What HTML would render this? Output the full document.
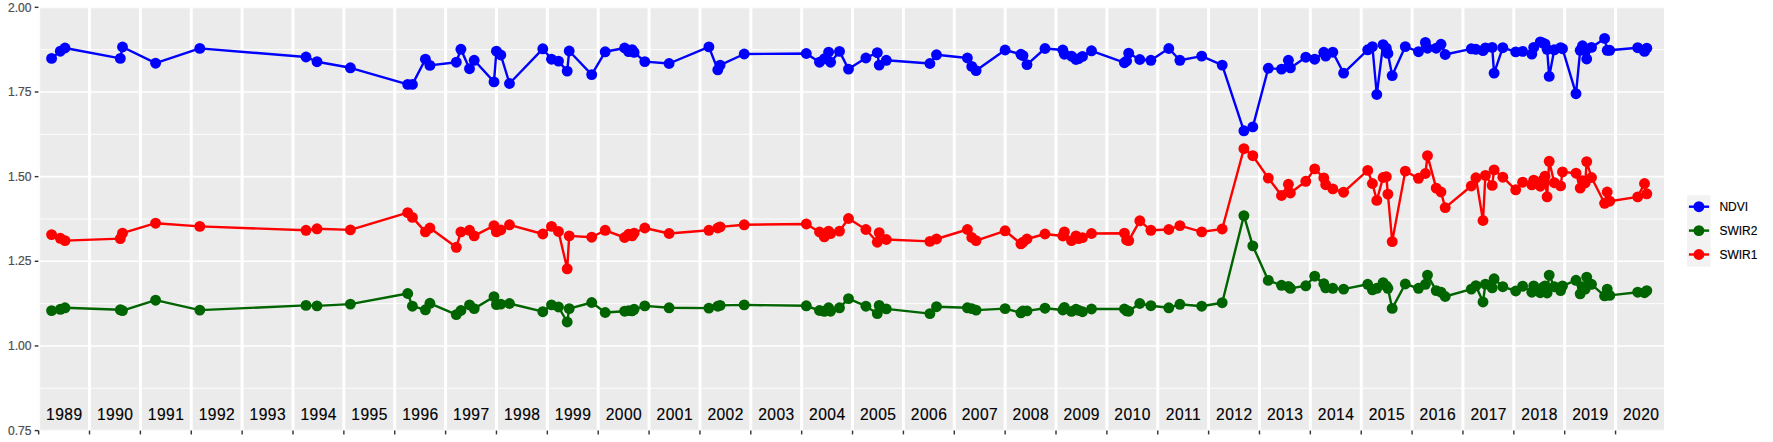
<!DOCTYPE html>
<html lang="en"><head><meta charset="utf-8"><title>Spectral index time series</title>
<style>html,body{margin:0;padding:0;background:#fff}svg{display:block}text{font-family:"Liberation Sans",Arial,Helvetica,sans-serif}</style></head><body>
<svg width="1773" height="442" viewBox="0 0 1773 442">
<rect width="1773" height="442" fill="#fff"/>
<defs><clipPath id="p"><rect x="38.4" y="7.33" width="1625.66" height="423.27"/></clipPath></defs>
<rect x="38.4" y="7.33" width="1625.66" height="423.27" fill="#EBEBEB"/>
<g clip-path="url(#p)">
<g stroke="#fff" stroke-width="0.9" fill="none">
<line x1="38.4" x2="1664.06" y1="49.66" y2="49.66"/>
<line x1="38.4" x2="1664.06" y1="134.31" y2="134.31"/>
<line x1="38.4" x2="1664.06" y1="218.97" y2="218.97"/>
<line x1="38.4" x2="1664.06" y1="303.62" y2="303.62"/>
<line x1="38.4" x2="1664.06" y1="388.27" y2="388.27"/>
</g>
<g stroke="#fff" stroke-width="1.6" fill="none">
<line x1="38.4" x2="1664.06" y1="7.33" y2="7.33"/>
<line x1="38.4" x2="1664.06" y1="91.98" y2="91.98"/>
<line x1="38.4" x2="1664.06" y1="176.64" y2="176.64"/>
<line x1="38.4" x2="1664.06" y1="261.29" y2="261.29"/>
<line x1="38.4" x2="1664.06" y1="345.95" y2="345.95"/>
<line x1="38.4" x2="1664.06" y1="430.60" y2="430.60"/>
</g>
<g stroke="#fff" stroke-width="3" fill="none">
<line x1="38.65" x2="38.65" y1="7.33" y2="430.6"/>
<line x1="89.52" x2="89.52" y1="7.33" y2="430.6"/>
<line x1="140.39" x2="140.39" y1="7.33" y2="430.6"/>
<line x1="191.26" x2="191.26" y1="7.33" y2="430.6"/>
<line x1="242.12" x2="242.12" y1="7.33" y2="430.6"/>
<line x1="292.99" x2="292.99" y1="7.33" y2="430.6"/>
<line x1="343.86" x2="343.86" y1="7.33" y2="430.6"/>
<line x1="394.73" x2="394.73" y1="7.33" y2="430.6"/>
<line x1="445.60" x2="445.60" y1="7.33" y2="430.6"/>
<line x1="496.46" x2="496.46" y1="7.33" y2="430.6"/>
<line x1="547.33" x2="547.33" y1="7.33" y2="430.6"/>
<line x1="598.20" x2="598.20" y1="7.33" y2="430.6"/>
<line x1="649.07" x2="649.07" y1="7.33" y2="430.6"/>
<line x1="699.94" x2="699.94" y1="7.33" y2="430.6"/>
<line x1="750.80" x2="750.80" y1="7.33" y2="430.6"/>
<line x1="801.67" x2="801.67" y1="7.33" y2="430.6"/>
<line x1="852.54" x2="852.54" y1="7.33" y2="430.6"/>
<line x1="903.41" x2="903.41" y1="7.33" y2="430.6"/>
<line x1="954.28" x2="954.28" y1="7.33" y2="430.6"/>
<line x1="1005.14" x2="1005.14" y1="7.33" y2="430.6"/>
<line x1="1056.01" x2="1056.01" y1="7.33" y2="430.6"/>
<line x1="1106.88" x2="1106.88" y1="7.33" y2="430.6"/>
<line x1="1157.75" x2="1157.75" y1="7.33" y2="430.6"/>
<line x1="1208.62" x2="1208.62" y1="7.33" y2="430.6"/>
<line x1="1259.48" x2="1259.48" y1="7.33" y2="430.6"/>
<line x1="1310.35" x2="1310.35" y1="7.33" y2="430.6"/>
<line x1="1361.22" x2="1361.22" y1="7.33" y2="430.6"/>
<line x1="1412.09" x2="1412.09" y1="7.33" y2="430.6"/>
<line x1="1462.96" x2="1462.96" y1="7.33" y2="430.6"/>
<line x1="1513.82" x2="1513.82" y1="7.33" y2="430.6"/>
<line x1="1564.69" x2="1564.69" y1="7.33" y2="430.6"/>
<line x1="1615.56" x2="1615.56" y1="7.33" y2="430.6"/>
</g>
<polyline points="51.6,58.4 60.3,51.2 65.0,48.0 120.3,58.4 122.5,47.0 155.6,63.2 199.8,48.4 306.0,57.0 317.0,61.7 350.4,67.8 407.7,84.4 412.4,84.4 425.4,59.2 429.9,65.4 456.3,62.2 460.9,49.3 469.5,68.7 474.2,60.3 494.0,81.9 496.4,51.2 500.8,55.0 509.5,83.5 542.8,48.8 551.5,59.2 558.5,61.1 567.2,71.1 569.2,51.0 591.7,74.6 605.2,51.8 624.6,48.0 628.6,51.6 632.1,49.6 634.1,52.4 644.8,61.6 669.1,63.5 708.9,46.9 717.8,69.8 720.1,65.1 744.2,54.0 806.3,53.5 819.5,62.2 824.3,58.8 828.6,52.1 830.6,62.2 839.5,51.4 848.5,69.1 865.9,58.0 877.3,52.7 879.2,65.1 886.3,60.3 929.9,63.5 936.5,54.8 967.4,58.0 971.8,66.4 976.1,70.6 1005.1,50.0 1020.9,54.3 1023.0,55.6 1027.0,64.6 1045.0,48.5 1062.8,50.0 1064.4,54.2 1071.5,56.2 1076.0,59.5 1078.6,58.6 1082.5,56.4 1091.5,50.8 1124.4,62.7 1126.6,61.0 1128.7,53.2 1139.8,59.5 1150.9,60.3 1168.8,48.5 1179.9,60.3 1201.7,56.1 1222.2,65.1 1243.9,130.8 1252.8,126.9 1268.3,68.3 1281.5,69.1 1288.4,60.3 1290.4,67.9 1305.8,57.2 1314.7,59.2 1323.8,52.3 1325.7,56.1 1332.8,52.2 1343.6,73.1 1367.7,49.8 1372.4,46.6 1376.8,94.5 1383.1,44.7 1386.3,48.2 1387.9,53.4 1392.2,75.6 1405.3,46.6 1418.5,51.7 1425.4,42.4 1427.5,48.2 1436.2,48.2 1441.0,44.3 1445.2,54.5 1471.3,48.8 1475.9,49.3 1483.0,50.6 1485.4,47.9 1492.2,47.4 1494.1,73.1 1502.8,47.7 1515.7,51.9 1522.6,51.4 1531.8,54.1 1533.7,47.4 1540.3,41.9 1542.7,43.0 1545.0,43.9 1547.1,49.3 1549.2,76.4 1554.3,49.8 1560.6,47.7 1562.5,48.7 1576.0,93.7 1580.2,50.3 1582.5,45.8 1585.2,50.0 1586.7,59.0 1591.5,47.4 1604.6,38.4 1607.2,50.3 1609.7,50.3 1637.7,47.7 1644.5,51.4 1646.8,48.2" fill="none" stroke="#0000FF" stroke-width="2.4" stroke-linejoin="round"/>
<polyline points="51.6,310.6 60.3,309.3 65.0,307.8 120.3,309.8 122.5,310.6 155.6,300.2 199.8,310.1 306.0,305.4 317.0,305.9 350.4,304.1 407.7,293.5 412.4,306.2 425.4,309.8 429.9,303.3 456.3,314.6 460.9,310.5 469.5,304.9 474.2,308.6 494.0,296.7 496.4,304.6 500.8,304.1 509.5,303.5 542.8,311.7 551.5,304.9 558.5,307.0 567.2,322.0 569.2,308.6 591.7,302.5 605.2,312.5 624.6,311.2 628.6,310.6 632.1,310.9 634.1,309.3 644.8,305.9 669.1,307.8 708.9,308.1 717.8,306.2 720.1,305.4 744.2,304.9 806.3,305.8 819.5,310.5 824.3,311.3 828.6,307.8 830.6,311.2 839.5,307.8 848.5,298.6 865.9,306.2 877.3,313.6 879.2,305.4 886.3,308.9 929.9,313.6 936.5,306.7 967.4,307.8 971.8,308.6 976.1,310.1 1005.1,308.6 1020.9,312.8 1023.0,310.9 1027.0,310.9 1045.0,308.2 1062.8,310.0 1064.4,307.4 1071.5,311.4 1076.0,309.3 1078.6,310.4 1082.5,311.7 1091.5,309.0 1124.4,309.0 1126.6,310.8 1128.7,311.2 1139.8,303.5 1150.9,305.7 1168.8,307.8 1179.9,304.3 1201.7,306.2 1222.2,302.7 1243.9,215.6 1252.8,245.9 1268.3,280.4 1281.5,285.3 1288.4,286.4 1290.4,288.4 1305.8,285.8 1314.7,276.2 1323.8,283.7 1325.7,287.8 1332.8,288.3 1343.6,289.1 1367.7,284.3 1372.4,289.8 1376.8,288.3 1383.1,282.7 1386.3,285.9 1387.9,288.3 1392.2,308.4 1405.3,284.0 1418.5,288.3 1425.4,284.3 1427.5,275.1 1436.2,290.6 1441.0,292.2 1445.2,296.5 1471.3,289.1 1475.9,285.7 1483.0,302.0 1485.4,284.1 1492.2,287.8 1494.1,278.8 1502.8,286.7 1515.7,291.0 1522.6,286.2 1531.8,292.2 1533.7,285.9 1540.3,292.7 1542.7,287.5 1545.0,285.9 1547.1,293.0 1549.2,275.1 1554.3,286.7 1560.6,290.6 1562.5,285.9 1576.0,280.3 1580.2,293.8 1582.5,286.7 1585.2,289.1 1586.7,277.2 1591.5,284.3 1604.6,295.9 1607.2,289.1 1609.7,295.4 1637.7,292.2 1644.5,292.7 1646.8,290.6" fill="none" stroke="#006400" stroke-width="2.4" stroke-linejoin="round"/>
<polyline points="51.6,234.6 60.3,238.3 65.0,240.6 120.3,238.6 122.5,233.2 155.6,223.2 199.8,226.4 306.0,230.3 317.0,228.8 350.4,229.9 407.7,212.6 412.4,217.4 425.4,231.9 429.9,228.0 456.3,247.3 460.9,231.9 469.5,230.3 474.2,235.9 494.0,225.6 496.4,231.9 500.8,230.0 509.5,224.8 542.8,234.0 551.5,226.4 558.5,231.5 567.2,268.8 569.2,235.9 591.7,237.2 605.2,230.3 624.6,237.5 628.6,234.3 632.1,235.9 634.1,233.2 644.8,228.0 669.1,233.5 708.9,230.3 717.8,228.0 720.1,226.9 744.2,224.8 806.3,224.0 819.5,232.0 824.3,236.8 828.6,231.1 830.6,233.6 839.5,231.1 848.5,218.5 865.9,229.5 877.3,242.2 879.2,232.7 886.3,239.5 929.9,241.4 936.5,239.0 967.4,229.5 971.8,237.5 976.1,240.6 1005.1,230.8 1020.9,243.8 1023.0,242.2 1027.0,239.0 1045.0,234.0 1062.8,236.0 1064.4,231.9 1071.5,240.6 1076.0,235.9 1078.6,238.6 1082.5,237.6 1091.5,233.5 1124.4,233.2 1126.6,240.0 1128.7,240.6 1139.8,220.8 1150.9,230.3 1168.8,229.5 1179.9,225.6 1201.7,231.9 1222.2,229.0 1243.9,148.7 1252.8,155.7 1268.3,178.1 1281.5,195.5 1288.4,184.3 1290.4,193.0 1305.8,181.3 1314.7,168.9 1323.8,177.9 1325.7,184.7 1332.8,188.9 1343.6,192.2 1367.7,170.4 1372.4,183.5 1376.8,200.4 1383.1,177.5 1386.3,176.7 1387.9,194.1 1392.2,241.6 1405.3,171.1 1418.5,178.3 1425.4,173.5 1427.5,155.6 1436.2,188.1 1441.0,192.0 1445.2,207.6 1471.3,186.0 1475.9,177.8 1483.0,220.5 1485.4,175.4 1492.2,185.4 1494.1,169.9 1502.8,177.2 1515.7,189.8 1522.6,182.2 1531.8,184.9 1533.7,180.2 1540.3,186.2 1542.7,180.2 1545.0,176.2 1547.1,196.8 1549.2,161.3 1554.3,182.7 1560.6,185.9 1562.5,171.9 1576.0,173.2 1580.2,188.1 1582.5,180.6 1585.2,183.0 1586.7,161.6 1591.5,177.5 1604.6,203.3 1607.2,192.0 1609.7,201.2 1637.7,196.9 1644.5,183.5 1646.8,193.8" fill="none" stroke="#FF0000" stroke-width="2.4" stroke-linejoin="round"/>
<g fill="#0000FF">
<circle cx="51.6" cy="58.4" r="5.45"/>
<circle cx="60.3" cy="51.2" r="5.45"/>
<circle cx="65.0" cy="48.0" r="5.45"/>
<circle cx="120.3" cy="58.4" r="5.45"/>
<circle cx="122.5" cy="47.0" r="5.45"/>
<circle cx="155.6" cy="63.2" r="5.45"/>
<circle cx="199.8" cy="48.4" r="5.45"/>
<circle cx="306.0" cy="57.0" r="5.45"/>
<circle cx="317.0" cy="61.7" r="5.45"/>
<circle cx="350.4" cy="67.8" r="5.45"/>
<circle cx="407.7" cy="84.4" r="5.45"/>
<circle cx="412.4" cy="84.4" r="5.45"/>
<circle cx="425.4" cy="59.2" r="5.45"/>
<circle cx="429.9" cy="65.4" r="5.45"/>
<circle cx="456.3" cy="62.2" r="5.45"/>
<circle cx="460.9" cy="49.3" r="5.45"/>
<circle cx="469.5" cy="68.7" r="5.45"/>
<circle cx="474.2" cy="60.3" r="5.45"/>
<circle cx="494.0" cy="81.9" r="5.45"/>
<circle cx="496.4" cy="51.2" r="5.45"/>
<circle cx="500.8" cy="55.0" r="5.45"/>
<circle cx="509.5" cy="83.5" r="5.45"/>
<circle cx="542.8" cy="48.8" r="5.45"/>
<circle cx="551.5" cy="59.2" r="5.45"/>
<circle cx="558.5" cy="61.1" r="5.45"/>
<circle cx="567.2" cy="71.1" r="5.45"/>
<circle cx="569.2" cy="51.0" r="5.45"/>
<circle cx="591.7" cy="74.6" r="5.45"/>
<circle cx="605.2" cy="51.8" r="5.45"/>
<circle cx="624.6" cy="48.0" r="5.45"/>
<circle cx="628.6" cy="51.6" r="5.45"/>
<circle cx="632.1" cy="49.6" r="5.45"/>
<circle cx="634.1" cy="52.4" r="5.45"/>
<circle cx="644.8" cy="61.6" r="5.45"/>
<circle cx="669.1" cy="63.5" r="5.45"/>
<circle cx="708.9" cy="46.9" r="5.45"/>
<circle cx="717.8" cy="69.8" r="5.45"/>
<circle cx="720.1" cy="65.1" r="5.45"/>
<circle cx="744.2" cy="54.0" r="5.45"/>
<circle cx="806.3" cy="53.5" r="5.45"/>
<circle cx="819.5" cy="62.2" r="5.45"/>
<circle cx="824.3" cy="58.8" r="5.45"/>
<circle cx="828.6" cy="52.1" r="5.45"/>
<circle cx="830.6" cy="62.2" r="5.45"/>
<circle cx="839.5" cy="51.4" r="5.45"/>
<circle cx="848.5" cy="69.1" r="5.45"/>
<circle cx="865.9" cy="58.0" r="5.45"/>
<circle cx="877.3" cy="52.7" r="5.45"/>
<circle cx="879.2" cy="65.1" r="5.45"/>
<circle cx="886.3" cy="60.3" r="5.45"/>
<circle cx="929.9" cy="63.5" r="5.45"/>
<circle cx="936.5" cy="54.8" r="5.45"/>
<circle cx="967.4" cy="58.0" r="5.45"/>
<circle cx="971.8" cy="66.4" r="5.45"/>
<circle cx="976.1" cy="70.6" r="5.45"/>
<circle cx="1005.1" cy="50.0" r="5.45"/>
<circle cx="1020.9" cy="54.3" r="5.45"/>
<circle cx="1023.0" cy="55.6" r="5.45"/>
<circle cx="1027.0" cy="64.6" r="5.45"/>
<circle cx="1045.0" cy="48.5" r="5.45"/>
<circle cx="1062.8" cy="50.0" r="5.45"/>
<circle cx="1064.4" cy="54.2" r="5.45"/>
<circle cx="1071.5" cy="56.2" r="5.45"/>
<circle cx="1076.0" cy="59.5" r="5.45"/>
<circle cx="1078.6" cy="58.6" r="5.45"/>
<circle cx="1082.5" cy="56.4" r="5.45"/>
<circle cx="1091.5" cy="50.8" r="5.45"/>
<circle cx="1124.4" cy="62.7" r="5.45"/>
<circle cx="1126.6" cy="61.0" r="5.45"/>
<circle cx="1128.7" cy="53.2" r="5.45"/>
<circle cx="1139.8" cy="59.5" r="5.45"/>
<circle cx="1150.9" cy="60.3" r="5.45"/>
<circle cx="1168.8" cy="48.5" r="5.45"/>
<circle cx="1179.9" cy="60.3" r="5.45"/>
<circle cx="1201.7" cy="56.1" r="5.45"/>
<circle cx="1222.2" cy="65.1" r="5.45"/>
<circle cx="1243.9" cy="130.8" r="5.45"/>
<circle cx="1252.8" cy="126.9" r="5.45"/>
<circle cx="1268.3" cy="68.3" r="5.45"/>
<circle cx="1281.5" cy="69.1" r="5.45"/>
<circle cx="1288.4" cy="60.3" r="5.45"/>
<circle cx="1290.4" cy="67.9" r="5.45"/>
<circle cx="1305.8" cy="57.2" r="5.45"/>
<circle cx="1314.7" cy="59.2" r="5.45"/>
<circle cx="1323.8" cy="52.3" r="5.45"/>
<circle cx="1325.7" cy="56.1" r="5.45"/>
<circle cx="1332.8" cy="52.2" r="5.45"/>
<circle cx="1343.6" cy="73.1" r="5.45"/>
<circle cx="1367.7" cy="49.8" r="5.45"/>
<circle cx="1372.4" cy="46.6" r="5.45"/>
<circle cx="1376.8" cy="94.5" r="5.45"/>
<circle cx="1383.1" cy="44.7" r="5.45"/>
<circle cx="1386.3" cy="48.2" r="5.45"/>
<circle cx="1387.9" cy="53.4" r="5.45"/>
<circle cx="1392.2" cy="75.6" r="5.45"/>
<circle cx="1405.3" cy="46.6" r="5.45"/>
<circle cx="1418.5" cy="51.7" r="5.45"/>
<circle cx="1425.4" cy="42.4" r="5.45"/>
<circle cx="1427.5" cy="48.2" r="5.45"/>
<circle cx="1436.2" cy="48.2" r="5.45"/>
<circle cx="1441.0" cy="44.3" r="5.45"/>
<circle cx="1445.2" cy="54.5" r="5.45"/>
<circle cx="1471.3" cy="48.8" r="5.45"/>
<circle cx="1475.9" cy="49.3" r="5.45"/>
<circle cx="1483.0" cy="50.6" r="5.45"/>
<circle cx="1485.4" cy="47.9" r="5.45"/>
<circle cx="1492.2" cy="47.4" r="5.45"/>
<circle cx="1494.1" cy="73.1" r="5.45"/>
<circle cx="1502.8" cy="47.7" r="5.45"/>
<circle cx="1515.7" cy="51.9" r="5.45"/>
<circle cx="1522.6" cy="51.4" r="5.45"/>
<circle cx="1531.8" cy="54.1" r="5.45"/>
<circle cx="1533.7" cy="47.4" r="5.45"/>
<circle cx="1540.3" cy="41.9" r="5.45"/>
<circle cx="1542.7" cy="43.0" r="5.45"/>
<circle cx="1545.0" cy="43.9" r="5.45"/>
<circle cx="1547.1" cy="49.3" r="5.45"/>
<circle cx="1549.2" cy="76.4" r="5.45"/>
<circle cx="1554.3" cy="49.8" r="5.45"/>
<circle cx="1560.6" cy="47.7" r="5.45"/>
<circle cx="1562.5" cy="48.7" r="5.45"/>
<circle cx="1576.0" cy="93.7" r="5.45"/>
<circle cx="1580.2" cy="50.3" r="5.45"/>
<circle cx="1582.5" cy="45.8" r="5.45"/>
<circle cx="1585.2" cy="50.0" r="5.45"/>
<circle cx="1586.7" cy="59.0" r="5.45"/>
<circle cx="1591.5" cy="47.4" r="5.45"/>
<circle cx="1604.6" cy="38.4" r="5.45"/>
<circle cx="1607.2" cy="50.3" r="5.45"/>
<circle cx="1609.7" cy="50.3" r="5.45"/>
<circle cx="1637.7" cy="47.7" r="5.45"/>
<circle cx="1644.5" cy="51.4" r="5.45"/>
<circle cx="1646.8" cy="48.2" r="5.45"/>
</g>
<g fill="#006400">
<circle cx="51.6" cy="310.6" r="5.45"/>
<circle cx="60.3" cy="309.3" r="5.45"/>
<circle cx="65.0" cy="307.8" r="5.45"/>
<circle cx="120.3" cy="309.8" r="5.45"/>
<circle cx="122.5" cy="310.6" r="5.45"/>
<circle cx="155.6" cy="300.2" r="5.45"/>
<circle cx="199.8" cy="310.1" r="5.45"/>
<circle cx="306.0" cy="305.4" r="5.45"/>
<circle cx="317.0" cy="305.9" r="5.45"/>
<circle cx="350.4" cy="304.1" r="5.45"/>
<circle cx="407.7" cy="293.5" r="5.45"/>
<circle cx="412.4" cy="306.2" r="5.45"/>
<circle cx="425.4" cy="309.8" r="5.45"/>
<circle cx="429.9" cy="303.3" r="5.45"/>
<circle cx="456.3" cy="314.6" r="5.45"/>
<circle cx="460.9" cy="310.5" r="5.45"/>
<circle cx="469.5" cy="304.9" r="5.45"/>
<circle cx="474.2" cy="308.6" r="5.45"/>
<circle cx="494.0" cy="296.7" r="5.45"/>
<circle cx="496.4" cy="304.6" r="5.45"/>
<circle cx="500.8" cy="304.1" r="5.45"/>
<circle cx="509.5" cy="303.5" r="5.45"/>
<circle cx="542.8" cy="311.7" r="5.45"/>
<circle cx="551.5" cy="304.9" r="5.45"/>
<circle cx="558.5" cy="307.0" r="5.45"/>
<circle cx="567.2" cy="322.0" r="5.45"/>
<circle cx="569.2" cy="308.6" r="5.45"/>
<circle cx="591.7" cy="302.5" r="5.45"/>
<circle cx="605.2" cy="312.5" r="5.45"/>
<circle cx="624.6" cy="311.2" r="5.45"/>
<circle cx="628.6" cy="310.6" r="5.45"/>
<circle cx="632.1" cy="310.9" r="5.45"/>
<circle cx="634.1" cy="309.3" r="5.45"/>
<circle cx="644.8" cy="305.9" r="5.45"/>
<circle cx="669.1" cy="307.8" r="5.45"/>
<circle cx="708.9" cy="308.1" r="5.45"/>
<circle cx="717.8" cy="306.2" r="5.45"/>
<circle cx="720.1" cy="305.4" r="5.45"/>
<circle cx="744.2" cy="304.9" r="5.45"/>
<circle cx="806.3" cy="305.8" r="5.45"/>
<circle cx="819.5" cy="310.5" r="5.45"/>
<circle cx="824.3" cy="311.3" r="5.45"/>
<circle cx="828.6" cy="307.8" r="5.45"/>
<circle cx="830.6" cy="311.2" r="5.45"/>
<circle cx="839.5" cy="307.8" r="5.45"/>
<circle cx="848.5" cy="298.6" r="5.45"/>
<circle cx="865.9" cy="306.2" r="5.45"/>
<circle cx="877.3" cy="313.6" r="5.45"/>
<circle cx="879.2" cy="305.4" r="5.45"/>
<circle cx="886.3" cy="308.9" r="5.45"/>
<circle cx="929.9" cy="313.6" r="5.45"/>
<circle cx="936.5" cy="306.7" r="5.45"/>
<circle cx="967.4" cy="307.8" r="5.45"/>
<circle cx="971.8" cy="308.6" r="5.45"/>
<circle cx="976.1" cy="310.1" r="5.45"/>
<circle cx="1005.1" cy="308.6" r="5.45"/>
<circle cx="1020.9" cy="312.8" r="5.45"/>
<circle cx="1023.0" cy="310.9" r="5.45"/>
<circle cx="1027.0" cy="310.9" r="5.45"/>
<circle cx="1045.0" cy="308.2" r="5.45"/>
<circle cx="1062.8" cy="310.0" r="5.45"/>
<circle cx="1064.4" cy="307.4" r="5.45"/>
<circle cx="1071.5" cy="311.4" r="5.45"/>
<circle cx="1076.0" cy="309.3" r="5.45"/>
<circle cx="1078.6" cy="310.4" r="5.45"/>
<circle cx="1082.5" cy="311.7" r="5.45"/>
<circle cx="1091.5" cy="309.0" r="5.45"/>
<circle cx="1124.4" cy="309.0" r="5.45"/>
<circle cx="1126.6" cy="310.8" r="5.45"/>
<circle cx="1128.7" cy="311.2" r="5.45"/>
<circle cx="1139.8" cy="303.5" r="5.45"/>
<circle cx="1150.9" cy="305.7" r="5.45"/>
<circle cx="1168.8" cy="307.8" r="5.45"/>
<circle cx="1179.9" cy="304.3" r="5.45"/>
<circle cx="1201.7" cy="306.2" r="5.45"/>
<circle cx="1222.2" cy="302.7" r="5.45"/>
<circle cx="1243.9" cy="215.6" r="5.45"/>
<circle cx="1252.8" cy="245.9" r="5.45"/>
<circle cx="1268.3" cy="280.4" r="5.45"/>
<circle cx="1281.5" cy="285.3" r="5.45"/>
<circle cx="1288.4" cy="286.4" r="5.45"/>
<circle cx="1290.4" cy="288.4" r="5.45"/>
<circle cx="1305.8" cy="285.8" r="5.45"/>
<circle cx="1314.7" cy="276.2" r="5.45"/>
<circle cx="1323.8" cy="283.7" r="5.45"/>
<circle cx="1325.7" cy="287.8" r="5.45"/>
<circle cx="1332.8" cy="288.3" r="5.45"/>
<circle cx="1343.6" cy="289.1" r="5.45"/>
<circle cx="1367.7" cy="284.3" r="5.45"/>
<circle cx="1372.4" cy="289.8" r="5.45"/>
<circle cx="1376.8" cy="288.3" r="5.45"/>
<circle cx="1383.1" cy="282.7" r="5.45"/>
<circle cx="1386.3" cy="285.9" r="5.45"/>
<circle cx="1387.9" cy="288.3" r="5.45"/>
<circle cx="1392.2" cy="308.4" r="5.45"/>
<circle cx="1405.3" cy="284.0" r="5.45"/>
<circle cx="1418.5" cy="288.3" r="5.45"/>
<circle cx="1425.4" cy="284.3" r="5.45"/>
<circle cx="1427.5" cy="275.1" r="5.45"/>
<circle cx="1436.2" cy="290.6" r="5.45"/>
<circle cx="1441.0" cy="292.2" r="5.45"/>
<circle cx="1445.2" cy="296.5" r="5.45"/>
<circle cx="1471.3" cy="289.1" r="5.45"/>
<circle cx="1475.9" cy="285.7" r="5.45"/>
<circle cx="1483.0" cy="302.0" r="5.45"/>
<circle cx="1485.4" cy="284.1" r="5.45"/>
<circle cx="1492.2" cy="287.8" r="5.45"/>
<circle cx="1494.1" cy="278.8" r="5.45"/>
<circle cx="1502.8" cy="286.7" r="5.45"/>
<circle cx="1515.7" cy="291.0" r="5.45"/>
<circle cx="1522.6" cy="286.2" r="5.45"/>
<circle cx="1531.8" cy="292.2" r="5.45"/>
<circle cx="1533.7" cy="285.9" r="5.45"/>
<circle cx="1540.3" cy="292.7" r="5.45"/>
<circle cx="1542.7" cy="287.5" r="5.45"/>
<circle cx="1545.0" cy="285.9" r="5.45"/>
<circle cx="1547.1" cy="293.0" r="5.45"/>
<circle cx="1549.2" cy="275.1" r="5.45"/>
<circle cx="1554.3" cy="286.7" r="5.45"/>
<circle cx="1560.6" cy="290.6" r="5.45"/>
<circle cx="1562.5" cy="285.9" r="5.45"/>
<circle cx="1576.0" cy="280.3" r="5.45"/>
<circle cx="1580.2" cy="293.8" r="5.45"/>
<circle cx="1582.5" cy="286.7" r="5.45"/>
<circle cx="1585.2" cy="289.1" r="5.45"/>
<circle cx="1586.7" cy="277.2" r="5.45"/>
<circle cx="1591.5" cy="284.3" r="5.45"/>
<circle cx="1604.6" cy="295.9" r="5.45"/>
<circle cx="1607.2" cy="289.1" r="5.45"/>
<circle cx="1609.7" cy="295.4" r="5.45"/>
<circle cx="1637.7" cy="292.2" r="5.45"/>
<circle cx="1644.5" cy="292.7" r="5.45"/>
<circle cx="1646.8" cy="290.6" r="5.45"/>
</g>
<g fill="#FF0000">
<circle cx="51.6" cy="234.6" r="5.45"/>
<circle cx="60.3" cy="238.3" r="5.45"/>
<circle cx="65.0" cy="240.6" r="5.45"/>
<circle cx="120.3" cy="238.6" r="5.45"/>
<circle cx="122.5" cy="233.2" r="5.45"/>
<circle cx="155.6" cy="223.2" r="5.45"/>
<circle cx="199.8" cy="226.4" r="5.45"/>
<circle cx="306.0" cy="230.3" r="5.45"/>
<circle cx="317.0" cy="228.8" r="5.45"/>
<circle cx="350.4" cy="229.9" r="5.45"/>
<circle cx="407.7" cy="212.6" r="5.45"/>
<circle cx="412.4" cy="217.4" r="5.45"/>
<circle cx="425.4" cy="231.9" r="5.45"/>
<circle cx="429.9" cy="228.0" r="5.45"/>
<circle cx="456.3" cy="247.3" r="5.45"/>
<circle cx="460.9" cy="231.9" r="5.45"/>
<circle cx="469.5" cy="230.3" r="5.45"/>
<circle cx="474.2" cy="235.9" r="5.45"/>
<circle cx="494.0" cy="225.6" r="5.45"/>
<circle cx="496.4" cy="231.9" r="5.45"/>
<circle cx="500.8" cy="230.0" r="5.45"/>
<circle cx="509.5" cy="224.8" r="5.45"/>
<circle cx="542.8" cy="234.0" r="5.45"/>
<circle cx="551.5" cy="226.4" r="5.45"/>
<circle cx="558.5" cy="231.5" r="5.45"/>
<circle cx="567.2" cy="268.8" r="5.45"/>
<circle cx="569.2" cy="235.9" r="5.45"/>
<circle cx="591.7" cy="237.2" r="5.45"/>
<circle cx="605.2" cy="230.3" r="5.45"/>
<circle cx="624.6" cy="237.5" r="5.45"/>
<circle cx="628.6" cy="234.3" r="5.45"/>
<circle cx="632.1" cy="235.9" r="5.45"/>
<circle cx="634.1" cy="233.2" r="5.45"/>
<circle cx="644.8" cy="228.0" r="5.45"/>
<circle cx="669.1" cy="233.5" r="5.45"/>
<circle cx="708.9" cy="230.3" r="5.45"/>
<circle cx="717.8" cy="228.0" r="5.45"/>
<circle cx="720.1" cy="226.9" r="5.45"/>
<circle cx="744.2" cy="224.8" r="5.45"/>
<circle cx="806.3" cy="224.0" r="5.45"/>
<circle cx="819.5" cy="232.0" r="5.45"/>
<circle cx="824.3" cy="236.8" r="5.45"/>
<circle cx="828.6" cy="231.1" r="5.45"/>
<circle cx="830.6" cy="233.6" r="5.45"/>
<circle cx="839.5" cy="231.1" r="5.45"/>
<circle cx="848.5" cy="218.5" r="5.45"/>
<circle cx="865.9" cy="229.5" r="5.45"/>
<circle cx="877.3" cy="242.2" r="5.45"/>
<circle cx="879.2" cy="232.7" r="5.45"/>
<circle cx="886.3" cy="239.5" r="5.45"/>
<circle cx="929.9" cy="241.4" r="5.45"/>
<circle cx="936.5" cy="239.0" r="5.45"/>
<circle cx="967.4" cy="229.5" r="5.45"/>
<circle cx="971.8" cy="237.5" r="5.45"/>
<circle cx="976.1" cy="240.6" r="5.45"/>
<circle cx="1005.1" cy="230.8" r="5.45"/>
<circle cx="1020.9" cy="243.8" r="5.45"/>
<circle cx="1023.0" cy="242.2" r="5.45"/>
<circle cx="1027.0" cy="239.0" r="5.45"/>
<circle cx="1045.0" cy="234.0" r="5.45"/>
<circle cx="1062.8" cy="236.0" r="5.45"/>
<circle cx="1064.4" cy="231.9" r="5.45"/>
<circle cx="1071.5" cy="240.6" r="5.45"/>
<circle cx="1076.0" cy="235.9" r="5.45"/>
<circle cx="1078.6" cy="238.6" r="5.45"/>
<circle cx="1082.5" cy="237.6" r="5.45"/>
<circle cx="1091.5" cy="233.5" r="5.45"/>
<circle cx="1124.4" cy="233.2" r="5.45"/>
<circle cx="1126.6" cy="240.0" r="5.45"/>
<circle cx="1128.7" cy="240.6" r="5.45"/>
<circle cx="1139.8" cy="220.8" r="5.45"/>
<circle cx="1150.9" cy="230.3" r="5.45"/>
<circle cx="1168.8" cy="229.5" r="5.45"/>
<circle cx="1179.9" cy="225.6" r="5.45"/>
<circle cx="1201.7" cy="231.9" r="5.45"/>
<circle cx="1222.2" cy="229.0" r="5.45"/>
<circle cx="1243.9" cy="148.7" r="5.45"/>
<circle cx="1252.8" cy="155.7" r="5.45"/>
<circle cx="1268.3" cy="178.1" r="5.45"/>
<circle cx="1281.5" cy="195.5" r="5.45"/>
<circle cx="1288.4" cy="184.3" r="5.45"/>
<circle cx="1290.4" cy="193.0" r="5.45"/>
<circle cx="1305.8" cy="181.3" r="5.45"/>
<circle cx="1314.7" cy="168.9" r="5.45"/>
<circle cx="1323.8" cy="177.9" r="5.45"/>
<circle cx="1325.7" cy="184.7" r="5.45"/>
<circle cx="1332.8" cy="188.9" r="5.45"/>
<circle cx="1343.6" cy="192.2" r="5.45"/>
<circle cx="1367.7" cy="170.4" r="5.45"/>
<circle cx="1372.4" cy="183.5" r="5.45"/>
<circle cx="1376.8" cy="200.4" r="5.45"/>
<circle cx="1383.1" cy="177.5" r="5.45"/>
<circle cx="1386.3" cy="176.7" r="5.45"/>
<circle cx="1387.9" cy="194.1" r="5.45"/>
<circle cx="1392.2" cy="241.6" r="5.45"/>
<circle cx="1405.3" cy="171.1" r="5.45"/>
<circle cx="1418.5" cy="178.3" r="5.45"/>
<circle cx="1425.4" cy="173.5" r="5.45"/>
<circle cx="1427.5" cy="155.6" r="5.45"/>
<circle cx="1436.2" cy="188.1" r="5.45"/>
<circle cx="1441.0" cy="192.0" r="5.45"/>
<circle cx="1445.2" cy="207.6" r="5.45"/>
<circle cx="1471.3" cy="186.0" r="5.45"/>
<circle cx="1475.9" cy="177.8" r="5.45"/>
<circle cx="1483.0" cy="220.5" r="5.45"/>
<circle cx="1485.4" cy="175.4" r="5.45"/>
<circle cx="1492.2" cy="185.4" r="5.45"/>
<circle cx="1494.1" cy="169.9" r="5.45"/>
<circle cx="1502.8" cy="177.2" r="5.45"/>
<circle cx="1515.7" cy="189.8" r="5.45"/>
<circle cx="1522.6" cy="182.2" r="5.45"/>
<circle cx="1531.8" cy="184.9" r="5.45"/>
<circle cx="1533.7" cy="180.2" r="5.45"/>
<circle cx="1540.3" cy="186.2" r="5.45"/>
<circle cx="1542.7" cy="180.2" r="5.45"/>
<circle cx="1545.0" cy="176.2" r="5.45"/>
<circle cx="1547.1" cy="196.8" r="5.45"/>
<circle cx="1549.2" cy="161.3" r="5.45"/>
<circle cx="1554.3" cy="182.7" r="5.45"/>
<circle cx="1560.6" cy="185.9" r="5.45"/>
<circle cx="1562.5" cy="171.9" r="5.45"/>
<circle cx="1576.0" cy="173.2" r="5.45"/>
<circle cx="1580.2" cy="188.1" r="5.45"/>
<circle cx="1582.5" cy="180.6" r="5.45"/>
<circle cx="1585.2" cy="183.0" r="5.45"/>
<circle cx="1586.7" cy="161.6" r="5.45"/>
<circle cx="1591.5" cy="177.5" r="5.45"/>
<circle cx="1604.6" cy="203.3" r="5.45"/>
<circle cx="1607.2" cy="192.0" r="5.45"/>
<circle cx="1609.7" cy="201.2" r="5.45"/>
<circle cx="1637.7" cy="196.9" r="5.45"/>
<circle cx="1644.5" cy="183.5" r="5.45"/>
<circle cx="1646.8" cy="193.8" r="5.45"/>
</g>
</g>
<g font-size="15.6" fill="#000" text-anchor="middle" letter-spacing="0.45" stroke="#000" stroke-width="0.15">
<text x="64.35" y="419.5">1989</text>
<text x="115.22" y="419.5">1990</text>
<text x="166.09" y="419.5">1991</text>
<text x="216.96" y="419.5">1992</text>
<text x="267.82" y="419.5">1993</text>
<text x="318.69" y="419.5">1994</text>
<text x="369.56" y="419.5">1995</text>
<text x="420.43" y="419.5">1996</text>
<text x="471.30" y="419.5">1997</text>
<text x="522.16" y="419.5">1998</text>
<text x="573.03" y="419.5">1999</text>
<text x="623.90" y="419.5">2000</text>
<text x="674.77" y="419.5">2001</text>
<text x="725.64" y="419.5">2002</text>
<text x="776.50" y="419.5">2003</text>
<text x="827.37" y="419.5">2004</text>
<text x="878.24" y="419.5">2005</text>
<text x="929.11" y="419.5">2006</text>
<text x="979.98" y="419.5">2007</text>
<text x="1030.84" y="419.5">2008</text>
<text x="1081.71" y="419.5">2009</text>
<text x="1132.58" y="419.5">2010</text>
<text x="1183.45" y="419.5">2011</text>
<text x="1234.32" y="419.5">2012</text>
<text x="1285.18" y="419.5">2013</text>
<text x="1336.05" y="419.5">2014</text>
<text x="1386.92" y="419.5">2015</text>
<text x="1437.79" y="419.5">2016</text>
<text x="1488.66" y="419.5">2017</text>
<text x="1539.52" y="419.5">2018</text>
<text x="1590.39" y="419.5">2019</text>
<text x="1641.26" y="419.5">2020</text>
</g>
<g stroke="#333" stroke-width="1.42" fill="none">
<line x1="34.7" x2="38.4" y1="7.33" y2="7.33"/>
<line x1="34.7" x2="38.4" y1="91.98" y2="91.98"/>
<line x1="34.7" x2="38.4" y1="176.64" y2="176.64"/>
<line x1="34.7" x2="38.4" y1="261.29" y2="261.29"/>
<line x1="34.7" x2="38.4" y1="345.95" y2="345.95"/>
<line x1="34.7" x2="38.4" y1="430.60" y2="430.60"/>
<line x1="38.65" x2="38.65" y1="430.6" y2="434.40"/>
<line x1="89.52" x2="89.52" y1="430.6" y2="434.40"/>
<line x1="140.39" x2="140.39" y1="430.6" y2="434.40"/>
<line x1="191.26" x2="191.26" y1="430.6" y2="434.40"/>
<line x1="242.12" x2="242.12" y1="430.6" y2="434.40"/>
<line x1="292.99" x2="292.99" y1="430.6" y2="434.40"/>
<line x1="343.86" x2="343.86" y1="430.6" y2="434.40"/>
<line x1="394.73" x2="394.73" y1="430.6" y2="434.40"/>
<line x1="445.60" x2="445.60" y1="430.6" y2="434.40"/>
<line x1="496.46" x2="496.46" y1="430.6" y2="434.40"/>
<line x1="547.33" x2="547.33" y1="430.6" y2="434.40"/>
<line x1="598.20" x2="598.20" y1="430.6" y2="434.40"/>
<line x1="649.07" x2="649.07" y1="430.6" y2="434.40"/>
<line x1="699.94" x2="699.94" y1="430.6" y2="434.40"/>
<line x1="750.80" x2="750.80" y1="430.6" y2="434.40"/>
<line x1="801.67" x2="801.67" y1="430.6" y2="434.40"/>
<line x1="852.54" x2="852.54" y1="430.6" y2="434.40"/>
<line x1="903.41" x2="903.41" y1="430.6" y2="434.40"/>
<line x1="954.28" x2="954.28" y1="430.6" y2="434.40"/>
<line x1="1005.14" x2="1005.14" y1="430.6" y2="434.40"/>
<line x1="1056.01" x2="1056.01" y1="430.6" y2="434.40"/>
<line x1="1106.88" x2="1106.88" y1="430.6" y2="434.40"/>
<line x1="1157.75" x2="1157.75" y1="430.6" y2="434.40"/>
<line x1="1208.62" x2="1208.62" y1="430.6" y2="434.40"/>
<line x1="1259.48" x2="1259.48" y1="430.6" y2="434.40"/>
<line x1="1310.35" x2="1310.35" y1="430.6" y2="434.40"/>
<line x1="1361.22" x2="1361.22" y1="430.6" y2="434.40"/>
<line x1="1412.09" x2="1412.09" y1="430.6" y2="434.40"/>
<line x1="1462.96" x2="1462.96" y1="430.6" y2="434.40"/>
<line x1="1513.82" x2="1513.82" y1="430.6" y2="434.40"/>
<line x1="1564.69" x2="1564.69" y1="430.6" y2="434.40"/>
<line x1="1615.56" x2="1615.56" y1="430.6" y2="434.40"/>
</g>
<g font-size="12.1" fill="#4D4D4D" text-anchor="end" stroke="#4D4D4D" stroke-width="0.2">
<text x="31.5" y="11.53">2.00</text>
<text x="31.5" y="96.18">1.75</text>
<text x="31.5" y="180.84">1.50</text>
<text x="31.5" y="265.49">1.25</text>
<text x="31.5" y="350.15">1.00</text>
<text x="31.5" y="434.80">0.75</text>
</g>
<rect x="1687.1" y="195.2" width="23.60" height="71.40" fill="#F2F2F2"/>
<line x1="1688.9" x2="1709.1" y1="206.70" y2="206.70" stroke="#0000FF" stroke-width="2.4"/>
<circle cx="1698.9" cy="206.70" r="5.45" fill="#0000FF"/>
<text x="1719.4" y="210.70" font-size="12" fill="#000" stroke="#000" stroke-width="0.15">NDVI</text>
<line x1="1688.9" x2="1709.1" y1="230.60" y2="230.60" stroke="#006400" stroke-width="2.4"/>
<circle cx="1698.9" cy="230.60" r="5.45" fill="#006400"/>
<text x="1719.4" y="234.60" font-size="12" fill="#000" stroke="#000" stroke-width="0.15">SWIR2</text>
<line x1="1688.9" x2="1709.1" y1="254.50" y2="254.50" stroke="#FF0000" stroke-width="2.4"/>
<circle cx="1698.9" cy="254.50" r="5.45" fill="#FF0000"/>
<text x="1719.4" y="258.50" font-size="12" fill="#000" stroke="#000" stroke-width="0.15">SWIR1</text>
</svg></body></html>
